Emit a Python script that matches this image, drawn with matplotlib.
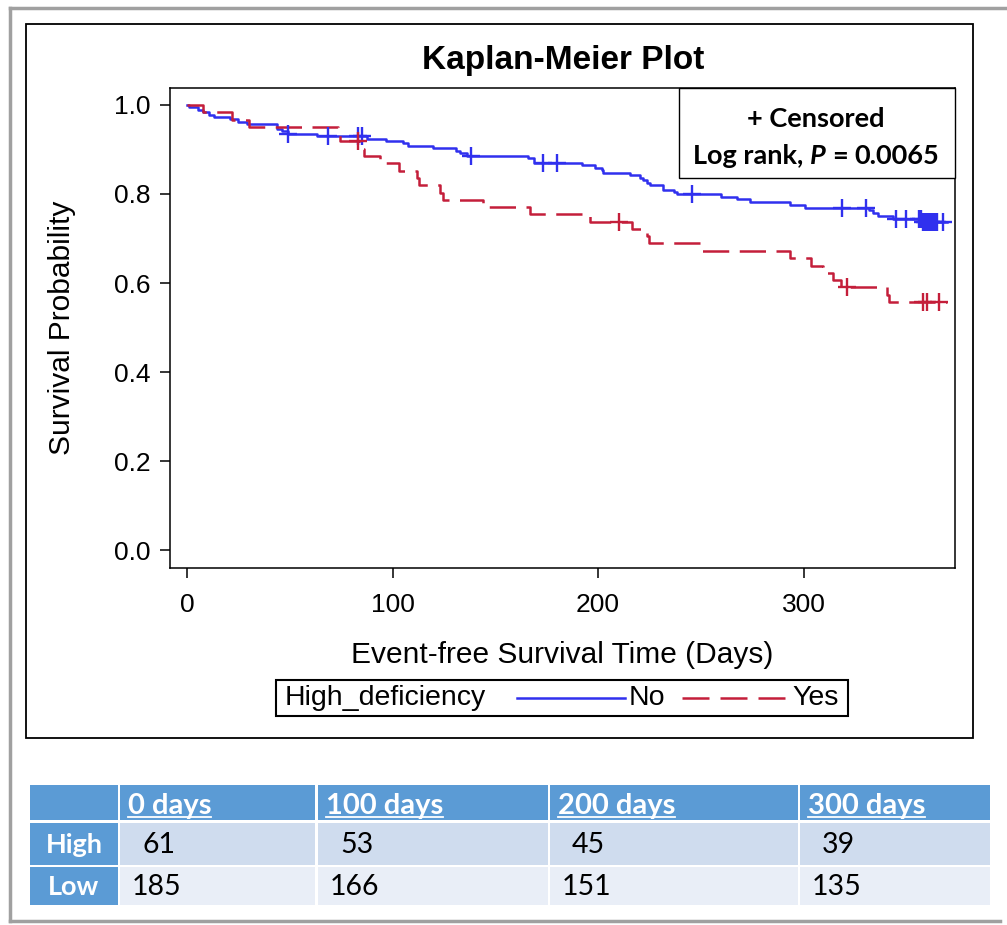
import matplotlib
matplotlib.use("Agg")
import matplotlib.pyplot as plt
import numpy as np
from matplotlib.lines import Line2D
from matplotlib.patches import Rectangle

# ───────────────────────── data ─────────────────────────
# step survival curve, "No" group (not high deficiency)
NO_T = [0, 1, 5.5, 8, 10.5, 13, 21, 25, 29, 44, 46, 49, 63, 87.5, 97, 105, 107.5,
        119.5, 131, 133, 136, 166, 169, 192, 198.5, 202, 202.5, 215.5, 220.5, 222,
        224, 225.5, 231.5, 237, 238.5, 260, 267.5, 274, 293.5, 300.5, 332, 334,
        336, 343.5, 358, 370]
NO_S = [1.0, 0.995, 0.989, 0.984, 0.978, 0.973, 0.968, 0.962, 0.957, 0.946, 0.941,
        0.935, 0.930, 0.924, 0.919, 0.914, 0.908, 0.903, 0.897, 0.892, 0.886, 0.881,
        0.870, 0.864, 0.858, 0.853, 0.847, 0.842, 0.836, 0.831, 0.825, 0.820, 0.809,
        0.804, 0.799, 0.793, 0.788, 0.782, 0.776, 0.769, 0.763, 0.757, 0.751, 0.744,
        0.738, 0.738]
NO_CENSOR = [49, 68.5, 83, 85, 138, 173, 180, 245.5, 318.5, 330.5, 345, 350, 356,
             357, 358, 359, 360, 361, 362, 363, 364, 365, 368]

# step survival curve, "Yes" group (high deficiency)
YES_T = [0, 8, 22, 30, 73.5, 74.5, 84, 86, 94, 103, 112, 113, 123, 124.5, 144, 167,
         196, 216.5, 224, 225, 250, 293.5, 303.5, 309.5, 314.5, 318, 340.5, 341.5, 370]
YES_S = [1.0, 0.984, 0.967, 0.951, 0.934, 0.918, 0.902, 0.885, 0.869, 0.852, 0.836,
         0.820, 0.803, 0.787, 0.770, 0.754, 0.738, 0.721, 0.705, 0.689, 0.672, 0.656,
         0.639, 0.623, 0.607, 0.590, 0.574, 0.557, 0.557]
YES_CENSOR = [83, 210, 321, 358, 360, 366]

X_TICKS = [0, 100, 200, 300]
Y_TICKS = [0.0, 0.2, 0.4, 0.6, 0.8, 1.0]

# numbers-at-risk table
TABLE_COLS = ["0 days", "100 days", "200 days", "300 days"]
TABLE_ROWS = ["High", "Low"]
AT_RISK_HIGH = [61, 53, 45, 39]
AT_RISK_LOW = [185, 166, 151, 135]

# ─────────────────────────────── styling knobs ───────────────────────────────
BLUE = "#3030EE"
RED = "#C41E3A"
HEAD_BLUE = "#5B9BD5"
ROW_HIGH = "#CFDCEE"
ROW_LOW = "#E9EEF7"
SANS = "Liberation Sans"
CAL = "Lato"
LW = 1.8

W, H = 1007, 925


def fx(px):
    return px / W


def fy(py):
    return 1 - py / H


def step_value(times, surv, t):
    """Survival value of a post-step curve at time t."""
    i = np.searchsorted(times, t, side="right") - 1
    return np.asarray(surv)[i]


fig = plt.figure(figsize=(W / 100, H / 100), dpi=100)
fig.patch.set_facecolor("white")

# outer gray frame + inner black frame
for xs, ys in [((10, 10), (8, 921)), ((10, 1007), (8, 8)), ((10, 1000), (921, 921))]:
    fig.add_artist(Line2D([fx(x) for x in xs], [fy(y) for y in ys],
                          color="#A0A0A0", lw=2.5, transform=fig.transFigure))
fig.add_artist(Rectangle((fx(26), fy(738)), fx(973) - fx(26), fy(24) - fy(738),
                         transform=fig.transFigure, fill=False, ec="black", lw=1.3))

# ───────────────────────────────── the plot ─────────────────────────────────
ax = fig.add_axes([fx(170), fy(568), fx(955) - fx(170), fy(88) - fy(568)])
ax.step(NO_T, NO_S, where="post", color=BLUE, lw=LW)
ax.step(YES_T, YES_S, where="post", color=RED, lw=LW, dashes=(10.5, 4.2))
ax.plot(NO_CENSOR, [step_value(NO_T, NO_S, t) for t in NO_CENSOR], ls="none",
        marker="+", ms=12.5, mew=1.7, color=BLUE)
ax.plot(YES_CENSOR, [step_value(YES_T, YES_S, t) for t in YES_CENSOR], ls="none",
        marker="+", ms=12.5, mew=1.7, color=RED)

ax.set_xlim(-8.3, 373.7)
ax.set_ylim(-0.04, 1.038)
ax.set_xticks(X_TICKS)
ax.set_xticklabels([str(v) for v in X_TICKS], family=SANS)
ax.set_yticks(Y_TICKS)
ax.set_yticklabels([f"{v:.1f}" for v in Y_TICKS], family=SANS)
ax.tick_params(axis="both", direction="out", length=7, width=1.1, labelsize=19,
               colors="black")
ax.tick_params(axis="x", pad=11)
ax.tick_params(axis="y", pad=7)
for sp in ax.spines.values():
    sp.set_linewidth(1.1)
    sp.set_color("black")

fig.text(fx(563), fy(60), "Kaplan-Meier Plot", family=SANS, weight="bold",
         fontsize=24, ha="center", va="center")
fig.text(fx(562), fy(655), "Event-free Survival Time (Days)", family=SANS,
         fontsize=21.5, ha="center", va="center")
fig.text(fx(62), fy(328), "Survival Probability", family=SANS, fontsize=21.5,
         rotation=90, ha="center", va="center")

# inset box with censor note and log-rank p
fig.add_artist(Rectangle((fx(679), fy(178)), fx(955) - fx(679), fy(88) - fy(178),
                         transform=fig.transFigure, fc="white", ec="black", lw=1.0))
fig.text(fx(816), fy(119), "+ Censored", family=CAL, weight="bold", fontsize=19.5,
         ha="center", va="center")

fig.canvas.draw()
renderer = fig.canvas.get_renderer()
runs = [("Log rank,", "normal"), ("P", "italic"), ("=", "normal"), ("0.0065", "normal")]
pieces = [fig.text(0, fy(164), s, family=CAL, weight="bold", style=st, fontsize=19.5,
                   ha="left", va="baseline") for s, st in runs]
widths = [p.get_window_extent(renderer).width for p in pieces]
gap = 19.5 * 100 / 72 * 0.24
x0 = 816 - (sum(widths) + gap * (len(pieces) - 1)) / 2
for p, w in zip(pieces, widths):
    p.set_x(fx(x0))
    x0 += w + gap

# bottom legend
fig.add_artist(Rectangle((fx(276), fy(716)), fx(848) - fx(276), fy(680) - fy(716),
                         transform=fig.transFigure, fill=False, ec="black", lw=1.5))
fig.text(fx(285), fy(698), "High_deficiency", family=SANS, fontsize=20.5,
         ha="left", va="center")
fig.add_artist(Line2D([fx(517), fx(625)], [fy(698), fy(698)], color=BLUE, lw=LW,
                      transform=fig.transFigure))
fig.text(fx(629), fy(698), "No", family=SANS, fontsize=20.5, ha="left", va="center")
fig.add_artist(Line2D([fx(682), fx(787)], [fy(698), fy(698)], color=RED, lw=LW,
                      dashes=(10.8, 4.4), transform=fig.transFigure))
fig.text(fx(792), fy(698), "Yes", family=SANS, fontsize=20.5, ha="left", va="center")

# ─────────────────────────── numbers-at-risk table ───────────────────────────
ROW_EDGES = [(785, 820), (823, 865), (867, 905)]
COL_EDGES = [(30, 118), (120, 315), (318, 548), (550, 798), (800, 990)]
row_fill = [ROW_HIGH, ROW_LOW]
row_vals = [AT_RISK_HIGH, AT_RISK_LOW]
row_indent = [10, 0]


def cell(x0, x1, y0, y1, color):
    fig.add_artist(Rectangle((fx(x0), fy(y1)), fx(x1) - fx(x0), fy(y0) - fy(y1),
                             transform=fig.transFigure, fc=color, ec="none"))


# header row
hy0, hy1 = ROW_EDGES[0]
for (x0, x1) in COL_EDGES:
    cell(x0, x1, hy0, hy1, HEAD_BLUE)
head_texts = []
for (x0, x1), name in zip(COL_EDGES[1:], TABLE_COLS):
    head_texts.append(fig.text(fx(x0 + 8), fy(hy1 - 6), name, family=CAL,
                               weight="bold", fontsize=21, color="white",
                               ha="left", va="baseline"))

# body rows
for r, (label, vals) in enumerate(zip(TABLE_ROWS, row_vals)):
    y0, y1 = ROW_EDGES[r + 1]
    cell(COL_EDGES[0][0], COL_EDGES[0][1], y0, y1, HEAD_BLUE)
    fig.text(fx((COL_EDGES[0][0] + COL_EDGES[0][1]) / 2), fy((y0 + y1) / 2 + 1), label,
             family=CAL, weight="bold", fontsize=19.5, color="white",
             ha="center", va="center")
    for (x0, x1), v in zip(COL_EDGES[1:], vals):
        cell(x0, x1, y0, y1, row_fill[r])
        fig.text(fx(x0 + 12 + row_indent[r]), fy((y0 + y1) / 2 + 1), str(v),
                 family=CAL, fontsize=20.5, color="black", ha="left", va="center")

# underline the header labels
fig.canvas.draw()
inv = fig.transFigure.inverted()
for t in head_texts:
    bb = t.get_window_extent(renderer)
    (xa, _), (xb, _) = inv.transform([(bb.x0, bb.y0), (bb.x1, bb.y0)])
    yb = fy(hy1 - 3)
    fig.add_artist(Line2D([xa, xb], [yb, yb], color="white", lw=1.3,
                          transform=fig.transFigure))

fig.savefig("out.png", dpi=100)
